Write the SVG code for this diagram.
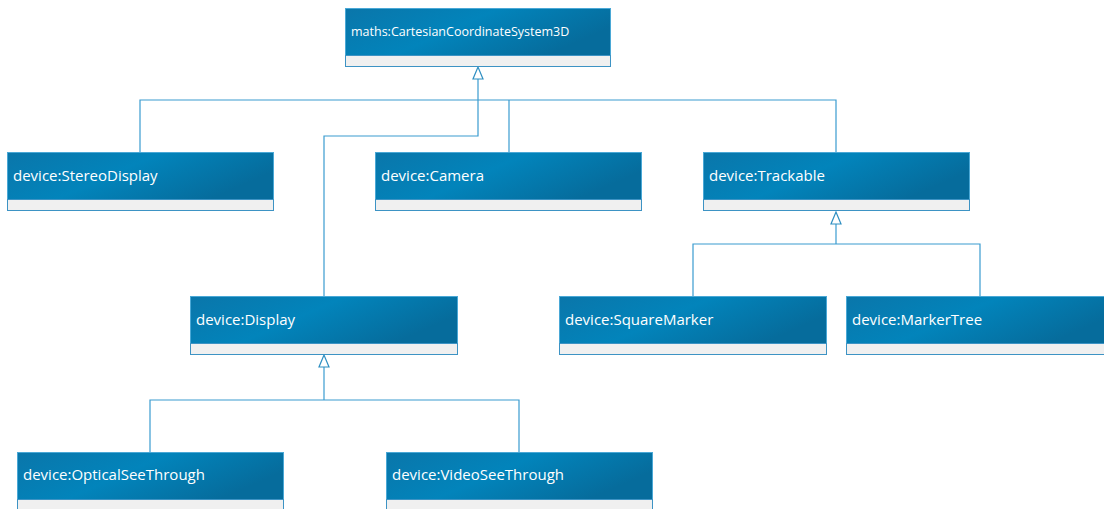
<svg xmlns="http://www.w3.org/2000/svg" width="1104" height="509" viewBox="0 0 1104 509">
  <defs>
    <linearGradient id="hdr" x1="0" y1="0" x2="1" y2="0.4">
      <stop offset="0" stop-color="#0a76aa"/>
      <stop offset="0.5" stop-color="#0284bb"/>
      <stop offset="1" stop-color="#066c9c"/>
    </linearGradient>
    <style>
      .head { fill: url(#hdr); stroke: #4aa8d6; stroke-width: 1; }
      .body { fill: #f0f0f0; stroke: #3d93c4; stroke-width: 1; }
      .lbl { font-family: "Open Sans", "Noto Sans", "DejaVu Sans", sans-serif; font-size: 15px; fill: #ffffff; }
      .lbl.small { font-size: 12.5px; }
      .conn { fill: none; stroke: #3a9cd0; stroke-width: 1.2; }
      .tri { fill: #ffffff; stroke: #2f8fc2; stroke-width: 1.2; }
    </style>
  </defs>

  <g id="connectors">
    <!-- generalizations to CartesianCoordinateSystem3D -->
    <path class="conn" d="M140,152 V100 H836 V152"/>
    <path class="conn" d="M509,100 V152"/>
    <path class="conn" d="M478,78 V136 H324 V296"/>
    <polygon class="tri" points="478,67 473,79 483,79"/>
    <!-- generalizations to Trackable -->
    <path class="conn" d="M836,223 V244"/>
    <path class="conn" d="M693,296 V244 H980 V296"/>
    <polygon class="tri" points="836,212 831,224 841,224"/>
    <!-- generalizations to Display -->
    <path class="conn" d="M324,366 V400"/>
    <path class="conn" d="M150,452 V400 H519 V452"/>
    <polygon class="tri" points="324,355 319,367 329,367"/>
  </g>

  <g id="maths-CartesianCoordinateSystem3D">
    <rect class="head" x="345.5" y="8.5" width="265" height="47"/>
    <rect class="body" x="345.5" y="55.5" width="265" height="11"/>
    <text class="lbl small" x="351" y="36">maths:CartesianCoordinateSystem3D</text>
  </g>

  <g id="device-StereoDisplay">
    <rect class="head" x="7.5" y="152.5" width="266" height="47"/>
    <rect class="body" x="7.5" y="199.5" width="266" height="11"/>
    <text class="lbl" x="13" y="181">device:StereoDisplay</text>
  </g>

  <g id="device-Camera">
    <rect class="head" x="375.5" y="152.5" width="266" height="47"/>
    <rect class="body" x="375.5" y="199.5" width="266" height="11"/>
    <text class="lbl" x="381" y="181">device:Camera</text>
  </g>

  <g id="device-Trackable">
    <rect class="head" x="703.5" y="152.5" width="266" height="47"/>
    <rect class="body" x="703.5" y="199.5" width="266" height="11"/>
    <text class="lbl" x="709" y="181">device:Trackable</text>
  </g>

  <g id="device-Display">
    <rect class="head" x="190.5" y="296.5" width="267" height="47"/>
    <rect class="body" x="190.5" y="343.5" width="267" height="11"/>
    <text class="lbl" x="196" y="325">device:Display</text>
  </g>

  <g id="device-SquareMarker">
    <rect class="head" x="559.5" y="296.5" width="267" height="47"/>
    <rect class="body" x="559.5" y="343.5" width="267" height="11"/>
    <text class="lbl" x="565" y="325">device:SquareMarker</text>
  </g>

  <g id="device-MarkerTree">
    <rect class="head" x="846.5" y="296.5" width="267" height="47"/>
    <rect class="body" x="846.5" y="343.5" width="267" height="11"/>
    <text class="lbl" x="852" y="325">device:MarkerTree</text>
  </g>

  <g id="device-OpticalSeeThrough">
    <rect class="head" x="17.5" y="452.5" width="266" height="47"/>
    <rect class="body" x="17.5" y="499.5" width="266" height="11"/>
    <text class="lbl" x="23" y="480">device:OpticalSeeThrough</text>
  </g>

  <g id="device-VideoSeeThrough">
    <rect class="head" x="386.5" y="452.5" width="266" height="47"/>
    <rect class="body" x="386.5" y="499.5" width="266" height="11"/>
    <text class="lbl" x="392" y="480">device:VideoSeeThrough</text>
  </g>
</svg>
